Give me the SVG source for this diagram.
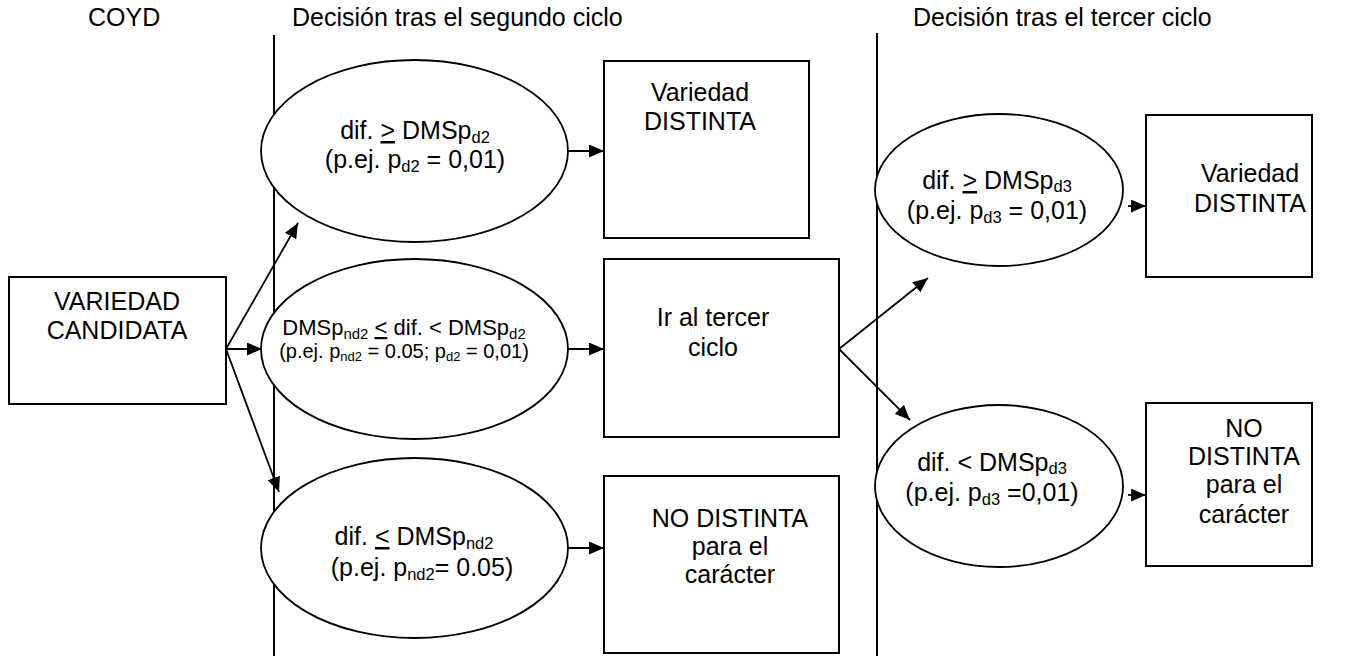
<svg xmlns="http://www.w3.org/2000/svg" width="1346" height="656" viewBox="0 0 1346 656">
<defs>
<style>
text{font-family:"Liberation Sans",Arial,sans-serif;fill:#000;}
.t{font-size:25px;}
.m{text-anchor:middle;}
.box{fill:#fff;stroke:#000;stroke-width:2;}
.ell{fill:#fff;stroke:#000;stroke-width:1.8;}
.sep{stroke:#000;stroke-width:2;fill:none;}
.con line{stroke:#000;stroke-width:1.8;marker-end:url(#ah);}
.u{text-decoration:underline;}
</style>
<marker id="ah" markerUnits="userSpaceOnUse" markerWidth="15" markerHeight="13" refX="15" refY="6.5" orient="auto">
<path d="M0,0 L15,6.5 L0,13 z" fill="#000"/>
</marker>
</defs>
<rect width="1346" height="656" fill="#fff"/>

<g id="titles">
<text class="t" x="88" y="26">COYD</text>
<text class="t" x="292" y="26">Decisión tras el segundo ciclo</text>
<text class="t" x="913" y="26">Decisión tras el tercer ciclo</text>
</g>

<g id="separators">
<line class="sep" x1="274" y1="35" x2="274" y2="656"/>
<line class="sep" x1="877" y1="33" x2="877" y2="656"/>
</g>

<g id="candidata">
<rect class="box" x="9" y="277" width="217" height="127"/>
<text class="t m" x="117" y="310">VARIEDAD</text>
<text class="t m" x="117" y="339">CANDIDATA</text>
</g>

<g id="e-d2">
<ellipse class="ell" cx="414.5" cy="151" rx="153.5" ry="91"/>
<text class="t m" x="415" y="139">dif. <tspan class="u">&gt;</tspan> DMSp<tspan font-size="16.5" dy="4">d2</tspan></text>
<text class="t m" x="415" y="168">(p.ej. p<tspan font-size="16.5" dy="4">d2</tspan><tspan dy="-4"> = 0,01)</tspan></text>
</g>

<g id="e-mid2">
<ellipse class="ell" cx="414.5" cy="349" rx="153.5" ry="90"/>
<text class="m" font-size="22" x="404" y="335">DMSp<tspan font-size="15" dy="4">nd2</tspan><tspan dy="-4"> </tspan><tspan class="u">&lt;</tspan> dif. &lt; DMSp<tspan font-size="15" dy="4">d2</tspan></text>
<text class="m" font-size="20" x="404" y="358">(p.ej. p<tspan font-size="13" dy="3">nd2</tspan><tspan dy="-3"> = 0.05; p</tspan><tspan font-size="13" dy="3">d2</tspan><tspan dy="-3"> = 0,01)</tspan></text>
</g>

<g id="e-nd2">
<ellipse class="ell" cx="414.5" cy="548" rx="153.5" ry="90"/>
<text class="t m" x="414" y="545">dif. <tspan class="u">&lt;</tspan> DMSp<tspan font-size="16.5" dy="4">nd2</tspan></text>
<text class="t m" x="422" y="576">(p.ej. p<tspan font-size="16.5" dy="4">nd2</tspan><tspan dy="-4">= 0.05)</tspan></text>
</g>

<g id="b-distinta2">
<rect class="box" x="604" y="61" width="205" height="177"/>
<text class="t m" x="700" y="101">Variedad</text>
<text class="t m" x="700" y="130">DISTINTA</text>
</g>

<g id="b-tercer">
<rect class="box" x="604" y="259" width="235" height="178"/>
<text class="t m" x="713" y="326">Ir al tercer</text>
<text class="t m" x="713" y="356">ciclo</text>
</g>

<g id="b-nodistinta2">
<rect class="box" x="604" y="476" width="235" height="177"/>
<text class="t m" x="730" y="527">NO DISTINTA</text>
<text class="t m" x="730" y="555">para el</text>
<text class="t m" x="730" y="583">carácter</text>
</g>

<g id="e-d3">
<ellipse class="ell" cx="999" cy="190" rx="124" ry="76"/>
<text class="t m" x="997" y="189">dif. <tspan class="u">&gt;</tspan> DMSp<tspan font-size="16.5" dy="3">d3</tspan></text>
<text class="t m" x="997" y="219">(p.ej. p<tspan font-size="16.5" dy="4">d3</tspan><tspan dy="-4"> = 0,01)</tspan></text>
</g>

<g id="e-nd3">
<ellipse class="ell" cx="999" cy="486" rx="124" ry="81"/>
<text class="t m" x="992" y="471">dif. &lt; DMSp<tspan font-size="16.5" dy="3">d3</tspan></text>
<text class="t m" x="992" y="501">(p.ej. p<tspan font-size="16.5" dy="4">d3</tspan><tspan dy="-4"> =0,01)</tspan></text>
</g>

<g id="b-distinta3">
<rect class="box" x="1146" y="115" width="166" height="162"/>
<text class="t m" x="1250" y="182">Variedad</text>
<text class="t m" x="1250" y="212">DISTINTA</text>
</g>

<g id="b-nodistinta3">
<rect class="box" x="1146" y="403" width="166" height="163"/>
<text class="t m" x="1244" y="437">NO</text>
<text class="t m" x="1244" y="465">DISTINTA</text>
<text class="t m" x="1244" y="493">para el</text>
<text class="t m" x="1244" y="523">carácter</text>
</g>

<g id="connectors" class="con">
<line x1="226" y1="349" x2="298" y2="223"/>
<line x1="226" y1="349" x2="262" y2="349"/>
<line x1="226" y1="349" x2="279" y2="492"/>
<line x1="568" y1="151" x2="604" y2="151"/>
<line x1="568" y1="349" x2="604" y2="349"/>
<line x1="568" y1="548" x2="604" y2="548"/>
<line x1="839" y1="349" x2="928" y2="278"/>
<line x1="839" y1="349" x2="910" y2="420"/>
<line x1="1128" y1="206" x2="1146" y2="206"/>
<line x1="1128" y1="495" x2="1146" y2="495"/>
</g>
</svg>
